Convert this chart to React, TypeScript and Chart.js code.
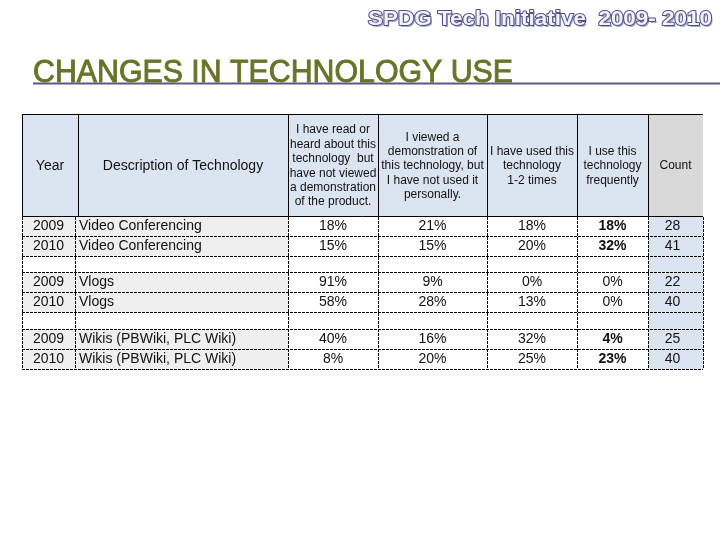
import React, { useEffect, useRef } from 'react';
import { Chart, registerables } from 'chart.js';

Chart.register(...registerables);

// ---------- content ----------
const pageTitle = 'SPDG Tech Initiative  2009- 2010';
const sectionTitle = 'CHANGES IN TECHNOLOGY USE';

const headerLabels: string[][] = [
  ['Year'],
  ['Description of Technology'],
  ['I have read or', 'heard about this', 'technology  but', 'have not viewed', 'a demonstration', 'of the product.'],
  ['I viewed a', 'demonstration of', 'this technology, but', 'I have not used it', 'personally.'],
  ['I have used this', 'technology', '1-2 times'],
  ['I use this', 'technology', 'frequently'],
  ['Count'],
];

const years = ['2009', '2010', '2009', '2010', '2009', '2010'];
const technologies = [
  'Video Conferencing',
  'Video Conferencing',
  'Vlogs',
  'Vlogs',
  'Wikis (PBWiki, PLC Wiki)',
  'Wikis (PBWiki, PLC Wiki)',
];
const readOrHeard = [18, 15, 91, 58, 40, 8];
const viewedDemo = [21, 15, 9, 28, 16, 20];
const usedOnceOrTwice = [18, 20, 0, 13, 32, 25];
const useFrequently = [18, 32, 0, 0, 4, 23];
const counts = [28, 41, 22, 40, 25, 40];

// ---------- layout / style (not data) ----------
const colEdges = [0, 56, 266, 356, 465, 555, 626, 681];
const dataYearEdge = 53;
const headerHeight = 102;
const dataRowHeight = 20;
const spacerHeights = [16, 17];
const boldFrequent = [true, true, false, false, true, true];
const FONT = '"Liberation Sans", Arial, sans-serif';

type RowDef = { top: number; bottom: number; idx: number };

function buildRows(): RowDef[] {
  const rows: RowDef[] = [];
  let y = headerHeight;
  for (let i = 0; i < years.length; i++) {
    rows.push({ top: y, bottom: y + dataRowHeight, idx: i });
    y += dataRowHeight;
    if (i % 2 === 1 && i < years.length - 1) {
      const h = spacerHeights[(i - 1) / 2] ?? 16;
      rows.push({ top: y, bottom: y + h, idx: -1 });
      y += h;
    }
  }
  return rows;
}

const tablePlugin = {
  id: 'tableDraw',
  afterDraw(chart: any) {
    const ctx: CanvasRenderingContext2D = chart.ctx;
    const xs = chart.scales.x;
    const ys = chart.scales.y;
    const X = (v: number) => xs.getPixelForValue(v);
    const Y = (v: number) => ys.getPixelForValue(v);
    const rows = buildRows();
    const tableBottom = rows[rows.length - 1].bottom;
    const snap = (v: number) => Math.round(v) + 0.5;

    ctx.save();

    // ---- page title (outlined) ----
    ctx.font = `bold 21px ${FONT}`;
    const tw = ctx.measureText(pageTitle).width;
    ctx.save();
    ctx.translate(368, 25);
    ctx.scale(344 / tw, 1);
    ctx.textBaseline = 'alphabetic';
    ctx.textAlign = 'left';
    ctx.fillStyle = '#a8a8c8';
    ctx.fillText(pageTitle, 1.5, 1.5);
    ctx.lineJoin = 'round';
    ctx.lineWidth = 2;
    ctx.strokeStyle = '#4f4f86';
    ctx.strokeText(pageTitle, 0, 0);
    ctx.fillStyle = '#f3f3ff';
    ctx.fillText(pageTitle, 0, 0);
    ctx.restore();

    // ---- section title ----
    ctx.font = `31px ${FONT}`;
    const sw = ctx.measureText(sectionTitle).width;
    ctx.save();
    ctx.translate(33, 82);
    ctx.scale(480 / sw, 1);
    ctx.fillStyle = '#667528';
    ctx.strokeStyle = '#667528';
    ctx.lineWidth = 0.9;
    ctx.textAlign = 'left';
    ctx.textBaseline = 'alphabetic';
    ctx.fillText(sectionTitle, 0, 0);
    ctx.strokeText(sectionTitle, 0, 0);
    ctx.restore();
    ctx.strokeStyle = '#595a86';
    ctx.lineWidth = 2;
    ctx.beginPath();
    ctx.moveTo(33, 83.5);
    ctx.lineTo(720, 83.5);
    ctx.stroke();

    // ---- header fills ----
    for (let c = 0; c < 7; c++) {
      ctx.fillStyle = c === 6 ? '#d9d9d9' : '#dbe5f1';
      ctx.fillRect(X(colEdges[c]), Y(0), X(colEdges[c + 1]) - X(colEdges[c]), Y(headerHeight) - Y(0));
    }

    // ---- data fills ----
    rows.forEach((r) => {
      const top = Y(r.top);
      const h = Y(r.bottom) - top;
      if (r.idx >= 0) {
        ctx.fillStyle = '#efefef';
        ctx.fillRect(X(0), top, X(colEdges[2]) - X(0), h);
      }
      ctx.fillStyle = '#dbe5f1';
      ctx.fillRect(X(colEdges[6]), top, X(colEdges[7]) - X(colEdges[6]), h);
    });

    // ---- header text ----
    ctx.fillStyle = '#111';
    ctx.textAlign = 'center';
    ctx.textBaseline = 'middle';
    const lineH = 14.4;
    headerLabels.forEach((lines, c) => {
      const big = c < 2;
      ctx.font = `${big ? 14 : 12}px ${FONT}`;
      const cx = (X(colEdges[c]) + X(colEdges[c + 1])) / 2;
      const cy = Y(52);
      const start = cy - ((lines.length - 1) * lineH) / 2;
      lines.forEach((ln, k) => ctx.fillText(ln, cx, start + k * lineH));
    });

    // ---- data text ----
    const pctCols = [readOrHeard, viewedDemo, usedOnceOrTwice, useFrequently];
    rows.forEach((r) => {
      if (r.idx < 0) return;
      const i = r.idx;
      const cy = (Y(r.top) + Y(r.bottom)) / 2;
      ctx.font = `14px ${FONT}`;
      ctx.fillStyle = '#111';
      ctx.textAlign = 'center';
      ctx.fillText(years[i], (X(0) + X(dataYearEdge)) / 2, cy);
      ctx.textAlign = 'left';
      ctx.fillText(technologies[i], X(dataYearEdge + 4), cy);
      pctCols.forEach((arr, k) => {
        const c = k + 2;
        const cx = (X(colEdges[c]) + X(colEdges[c + 1])) / 2;
        ctx.textAlign = 'center';
        ctx.font = `${k === 3 && boldFrequent[i] ? 'bold ' : ''}14px ${FONT}`;
        ctx.fillText(`${arr[i]}%`, cx, cy);
      });
      ctx.font = `14px ${FONT}`;
      ctx.textAlign = 'center';
      ctx.fillText(String(counts[i]), (X(colEdges[6]) + X(colEdges[7])) / 2 - 3, cy);
    });

    // ---- header borders (solid) ----
    ctx.strokeStyle = '#000';
    ctx.lineWidth = 1;
    ctx.setLineDash([]);
    ctx.beginPath();
    ctx.moveTo(X(0), snap(Y(0)));
    ctx.lineTo(X(colEdges[7]), snap(Y(0)));
    ctx.moveTo(X(0), snap(Y(headerHeight)));
    ctx.lineTo(X(colEdges[7]), snap(Y(headerHeight)));
    for (let c = 0; c < 7; c++) {
      ctx.moveTo(snap(X(colEdges[c])), Y(0));
      ctx.lineTo(snap(X(colEdges[c])), Y(headerHeight));
    }
    ctx.stroke();

    // ---- data borders (dotted) ----
    ctx.setLineDash([3, 1]);
    ctx.beginPath();
    rows.forEach((r) => {
      ctx.moveTo(X(0), snap(Y(r.bottom)));
      ctx.lineTo(X(colEdges[7]), snap(Y(r.bottom)));
    });
    const vEdges = [0, dataYearEdge, ...colEdges.slice(2)];
    vEdges.forEach((e) => {
      ctx.moveTo(snap(X(e)), Y(headerHeight) + 1);
      ctx.lineTo(snap(X(e)), Y(tableBottom));
    });
    ctx.stroke();

    ctx.restore();
  },
};

export default function App() {
  const ref = useRef<HTMLCanvasElement | null>(null);
  useEffect(() => {
    if (!ref.current) return;
    const totalH = buildRows().slice(-1)[0].bottom;
    const chart = new Chart(ref.current, {
      type: 'scatter',
      data: { datasets: [] },
      options: {
        animation: false,
        responsive: false,
        devicePixelRatio: 1,
        layout: { padding: { left: 22, right: 17, top: 114, bottom: 540 - 114 - totalH } },
        plugins: { legend: { display: false }, tooltip: { enabled: false }, title: { display: false } },
        scales: {
          x: { type: 'linear', min: 0, max: colEdges[colEdges.length - 1], display: false },
          y: { type: 'linear', min: 0, max: totalH, reverse: true, display: false },
        },
      },
      plugins: [tablePlugin],
    });
    return () => chart.destroy();
  }, []);
  return (
    <div style={{ position: 'absolute', left: 0, top: 0, width: 720, height: 540, background: '#fff' }}>
      <canvas ref={ref} width={720} height={540} />
    </div>
  );
}
